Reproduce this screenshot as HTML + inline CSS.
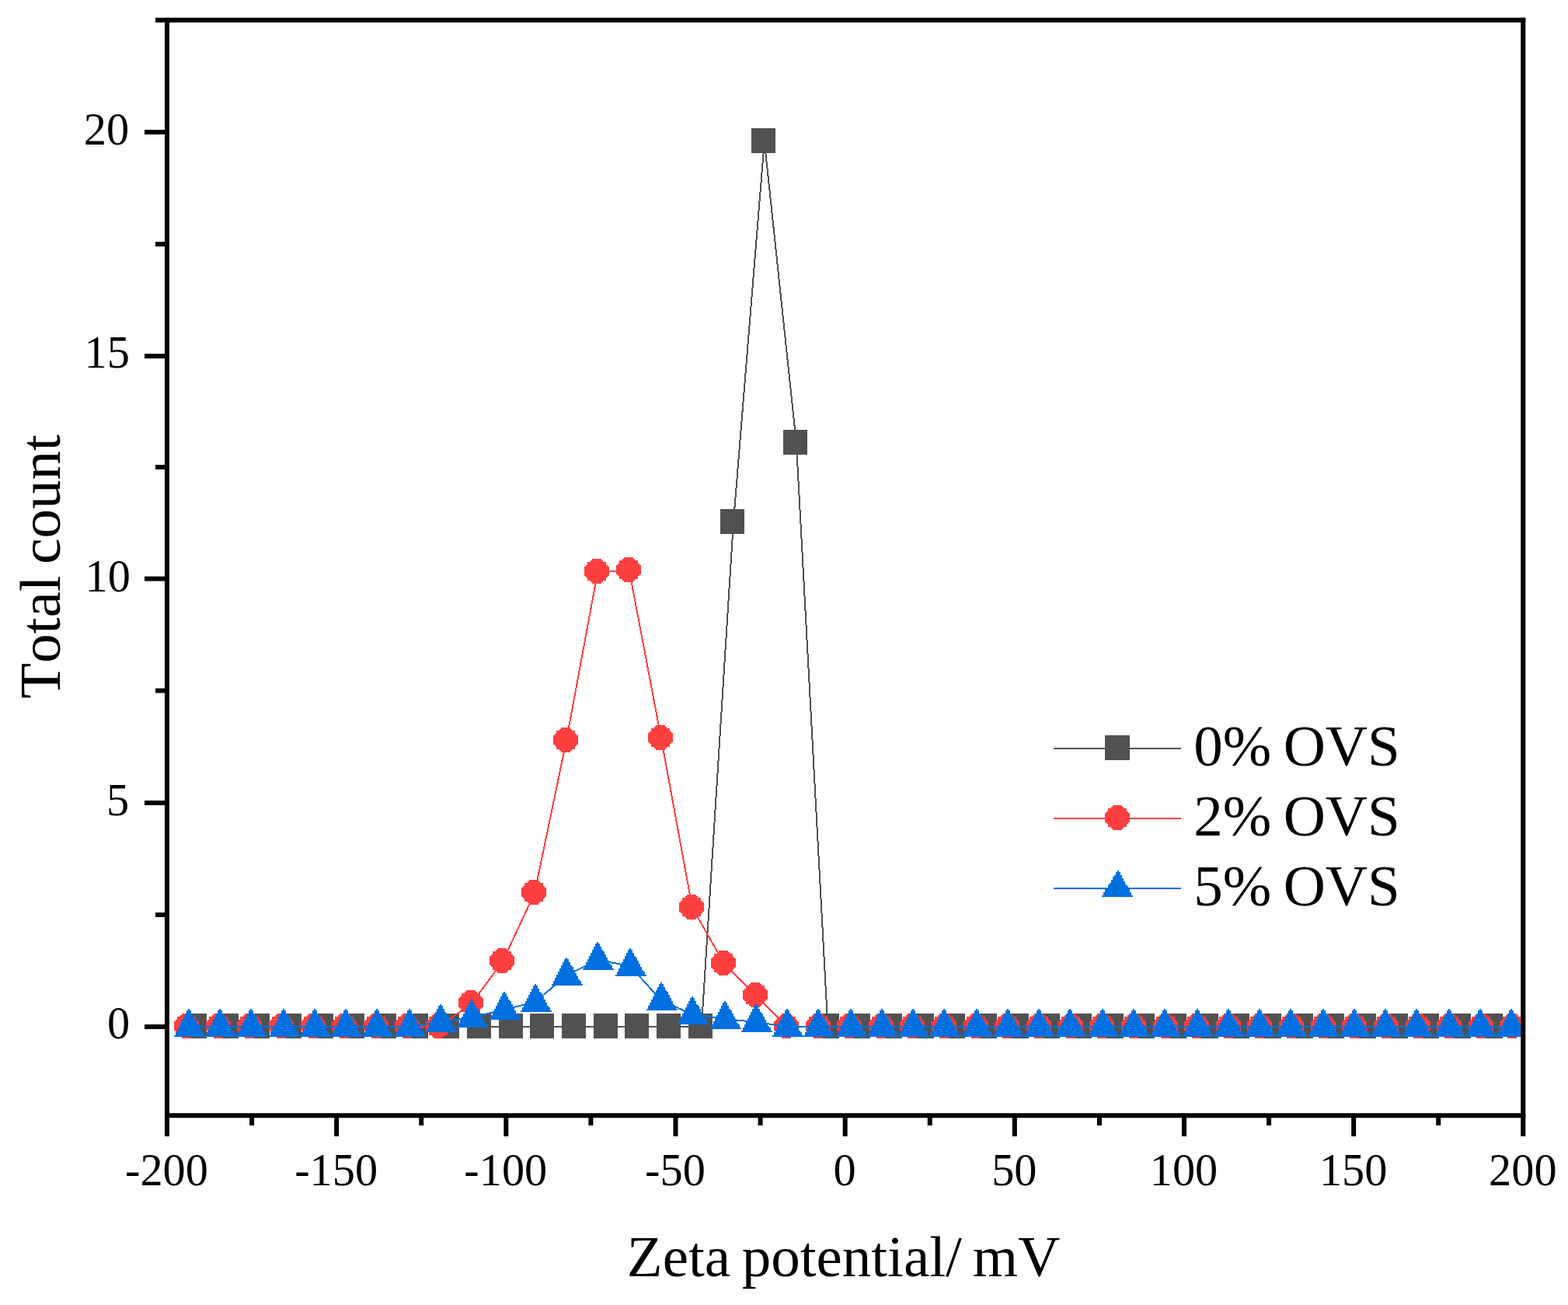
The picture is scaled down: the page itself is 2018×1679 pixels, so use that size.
<!DOCTYPE html>
<html lang="en">
<head>
<meta charset="utf-8">
<title>Zeta potential distribution</title>
<style>
html,body{margin:0;padding:0;background:#fff;}
body{width:2018px;height:1679px;overflow:hidden;}
svg{display:block;}
text{font-family:"Liberation Serif","DejaVu Serif",serif;fill:#000;font-kerning:none;}
.tick{font-size:58.33px;}
.title{font-size:75px;}
.leg{font-size:75px;}
</style>
</head>
<body>
<svg width="2018" height="1679" viewBox="0 0 2018 1679">
<rect x="0" y="0" width="2018" height="1679" fill="#fff"/>
<defs>
<clipPath id="plot"><rect x="218" y="29" width="1739.2" height="1403.2"/></clipPath>
<g id="mc">
<rect x="-6" y="-16" width="12" height="2"/>
<rect x="-8" y="-14" width="16" height="2"/>
<rect x="-12" y="-12" width="24" height="4"/>
<rect x="-14" y="-8" width="28" height="2"/>
<rect x="-16" y="-6" width="32" height="12"/>
<rect x="-14" y="6" width="28" height="2"/>
<rect x="-12" y="8" width="24" height="4"/>
<rect x="-8" y="12" width="16" height="2"/>
<rect x="-6" y="14" width="12" height="2"/>
</g>
<g id="mt">
<rect x="-1" y="0" width="2" height="2"/>
<rect x="-3" y="2" width="6" height="4"/>
<rect x="-5" y="6" width="10" height="4"/>
<rect x="-7" y="10" width="14" height="2"/>
<rect x="-7" y="12" width="16" height="2"/>
<rect x="-9" y="14" width="18" height="2"/>
<rect x="-9" y="16" width="20" height="2"/>
<rect x="-11" y="18" width="22" height="2"/>
<rect x="-11" y="20" width="24" height="2"/>
<rect x="-13" y="22" width="26" height="2"/>
<rect x="-13" y="24" width="28" height="2"/>
<rect x="-15" y="26" width="30" height="2"/>
<rect x="-15" y="28" width="32" height="2"/>
<rect x="-17" y="30" width="36" height="4"/>
<rect x="-19" y="34" width="40" height="2"/>
</g>
<g id="mt2">
<rect x="-1" y="0" width="2" height="2"/>
<rect x="-3" y="2" width="6" height="4"/>
<rect x="-5" y="6" width="10" height="2"/>
<rect x="-7" y="8" width="12" height="2"/>
<rect x="-7" y="10" width="14" height="2"/>
<rect x="-9" y="12" width="16" height="2"/>
<rect x="-9" y="14" width="18" height="2"/>
<rect x="-11" y="16" width="20" height="2"/>
<rect x="-13" y="18" width="24" height="2"/>
<rect x="-13" y="20" width="26" height="2"/>
<rect x="-15" y="22" width="30" height="2"/>
<rect x="-17" y="24" width="32" height="4"/>
<rect x="-19" y="28" width="36" height="4"/>
<rect x="-21" y="32" width="40" height="2"/>
</g>
</defs>
<g clip-path="url(#plot)" shape-rendering="crispEdges">
<polyline fill="none" stroke="#515151" stroke-width="2" points="251.4,1321 292.08,1321 332.76,1321 373.44,1321 414.12,1321 454.8,1321 495.48,1321 536.16,1321 576.84,1321 617.52,1321 658.2,1321 698.88,1321 739.56,1321 780.24,1321 820.92,1321 861.6,1321 902.9,1321 943.9,672.3 983.8,181.9 1024.9,570.1 1065.4,1321 1105.68,1321 1146.36,1321 1187.04,1321 1227.72,1321 1268.4,1321 1309.08,1321 1349.76,1321 1390.44,1321 1431.12,1321 1471.8,1321 1512.48,1321 1553.16,1321 1593.84,1321 1634.52,1321 1675.2,1321 1715.88,1321 1756.56,1321 1797.24,1321 1837.92,1321 1878.6,1321 1919.28,1321"/>
<g fill="#515151">
<rect x="234.9" y="1304" width="31" height="32"/>
<rect x="275.58" y="1304" width="31" height="32"/>
<rect x="316.26" y="1304" width="31" height="32"/>
<rect x="356.94" y="1304" width="31" height="32"/>
<rect x="397.62" y="1304" width="31" height="32"/>
<rect x="438.3" y="1304" width="31" height="32"/>
<rect x="478.98" y="1304" width="31" height="32"/>
<rect x="519.66" y="1304" width="31" height="32"/>
<rect x="560.34" y="1304" width="31" height="32"/>
<rect x="601.02" y="1304" width="31" height="32"/>
<rect x="641.7" y="1304" width="31" height="32"/>
<rect x="682.38" y="1304" width="31" height="32"/>
<rect x="723.06" y="1304" width="31" height="32"/>
<rect x="763.74" y="1304" width="31" height="32"/>
<rect x="804.42" y="1304" width="31" height="32"/>
<rect x="845.1" y="1304" width="31" height="32"/>
<rect x="886.4" y="1304" width="31" height="32"/>
<rect x="927.4" y="655.3" width="31" height="32"/>
<rect x="967.3" y="164.9" width="31" height="32"/>
<rect x="1008.4" y="553.1" width="31" height="32"/>
<rect x="1048.9" y="1304" width="31" height="32"/>
<rect x="1089.18" y="1304" width="31" height="32"/>
<rect x="1129.86" y="1304" width="31" height="32"/>
<rect x="1170.54" y="1304" width="31" height="32"/>
<rect x="1211.22" y="1304" width="31" height="32"/>
<rect x="1251.9" y="1304" width="31" height="32"/>
<rect x="1292.58" y="1304" width="31" height="32"/>
<rect x="1333.26" y="1304" width="31" height="32"/>
<rect x="1373.94" y="1304" width="31" height="32"/>
<rect x="1414.62" y="1304" width="31" height="32"/>
<rect x="1455.3" y="1304" width="31" height="32"/>
<rect x="1495.98" y="1304" width="31" height="32"/>
<rect x="1536.66" y="1304" width="31" height="32"/>
<rect x="1577.34" y="1304" width="31" height="32"/>
<rect x="1618.02" y="1304" width="31" height="32"/>
<rect x="1658.7" y="1304" width="31" height="32"/>
<rect x="1699.38" y="1304" width="31" height="32"/>
<rect x="1740.06" y="1304" width="31" height="32"/>
<rect x="1780.74" y="1304" width="31" height="32"/>
<rect x="1821.42" y="1304" width="31" height="32"/>
<rect x="1862.1" y="1304" width="31" height="32"/>
<rect x="1902.78" y="1304" width="31" height="32"/>
</g>
<polyline fill="none" stroke="#FE3F3F" stroke-width="2" points="241,1321 281.63,1321 322.26,1321 362.89,1321 403.52,1321 444.15,1321 484.78,1321 525.41,1321 565.5,1321 607.1,1290.7 646.9,1237.2 688,1149 728.9,952.8 769.1,736.3 809.9,734.3 851,950.4 891,1168 931.9,1239.8 972.9,1280.9 1012.8,1321 1054,1321 1094.23,1321 1134.86,1321 1175.49,1321 1216.12,1321 1256.75,1321 1297.38,1321 1338.01,1321 1378.64,1321 1419.27,1321 1459.9,1321 1500.53,1321 1541.16,1321 1581.79,1321 1622.42,1321 1663.05,1321 1703.68,1321 1744.31,1321 1784.94,1321 1825.57,1321 1866.2,1321 1906.83,1321 1947.46,1321"/>
<g fill="#FE3F3F">
<use href="#mc" x="240" y="1320"/>
<use href="#mc" x="281" y="1320"/>
<use href="#mc" x="321" y="1320"/>
<use href="#mc" x="362" y="1320"/>
<use href="#mc" x="403" y="1320"/>
<use href="#mc" x="443" y="1320"/>
<use href="#mc" x="484" y="1320"/>
<use href="#mc" x="524" y="1320"/>
<use href="#mc" x="564" y="1320"/>
<use href="#mc" x="606" y="1290"/>
<use href="#mc" x="646" y="1236"/>
<use href="#mc" x="687" y="1148"/>
<use href="#mc" x="728" y="952"/>
<use href="#mc" x="768" y="735"/>
<use href="#mc" x="809" y="733"/>
<use href="#mc" x="850" y="949"/>
<use href="#mc" x="890" y="1167"/>
<use href="#mc" x="931" y="1239"/>
<use href="#mc" x="972" y="1280"/>
<use href="#mc" x="1012" y="1320"/>
<use href="#mc" x="1053" y="1320"/>
<use href="#mc" x="1093" y="1320"/>
<use href="#mc" x="1134" y="1320"/>
<use href="#mc" x="1174" y="1320"/>
<use href="#mc" x="1215" y="1320"/>
<use href="#mc" x="1256" y="1320"/>
<use href="#mc" x="1296" y="1320"/>
<use href="#mc" x="1337" y="1320"/>
<use href="#mc" x="1378" y="1320"/>
<use href="#mc" x="1418" y="1320"/>
<use href="#mc" x="1459" y="1320"/>
<use href="#mc" x="1500" y="1320"/>
<use href="#mc" x="1540" y="1320"/>
<use href="#mc" x="1581" y="1320"/>
<use href="#mc" x="1621" y="1320"/>
<use href="#mc" x="1662" y="1320"/>
<use href="#mc" x="1703" y="1320"/>
<use href="#mc" x="1743" y="1320"/>
<use href="#mc" x="1784" y="1320"/>
<use href="#mc" x="1825" y="1320"/>
<use href="#mc" x="1865" y="1320"/>
<use href="#mc" x="1906" y="1320"/>
<use href="#mc" x="1946" y="1320"/>
</g>
<polyline fill="none" stroke="#0070E0" stroke-width="2" points="243,1321 283,1321 323,1321 365,1321 405,1321 445,1321 485,1321 527,1321 567,1315 607,1309.1 649,1299 689,1289 729,1254.9 769,1235 811,1243 851,1287.1 891,1305 933,1311 973,1315 1013,1321 1053,1321 1095,1321 1135,1321 1175,1321 1215,1321 1257,1321 1297,1321 1337,1321 1377,1321 1419,1321 1459,1321 1499,1321 1541,1321 1581,1321 1621,1321 1661,1321 1703,1321 1743,1321 1783,1321 1823,1321 1865,1321 1905,1321 1945,1321"/>
<g fill="#0070E0">
<use href="#mt" x="243" y="1298"/>
<use href="#mt" x="283" y="1298"/>
<use href="#mt" x="323" y="1298"/>
<use href="#mt" x="365" y="1298"/>
<use href="#mt" x="405" y="1298"/>
<use href="#mt" x="445" y="1298"/>
<use href="#mt" x="485" y="1298"/>
<use href="#mt" x="527" y="1298"/>
<use href="#mt" x="567" y="1292"/>
<use href="#mt" x="607" y="1286"/>
<use href="#mt" x="649" y="1276"/>
<use href="#mt" x="689" y="1266"/>
<use href="#mt" x="729" y="1232"/>
<use href="#mt" x="769" y="1212"/>
<use href="#mt" x="811" y="1220"/>
<use href="#mt" x="851" y="1264"/>
<use href="#mt" x="891" y="1282"/>
<use href="#mt" x="933" y="1288"/>
<use href="#mt" x="973" y="1292"/>
<use href="#mt" x="1013" y="1298"/>
<use href="#mt" x="1053" y="1298"/>
<use href="#mt" x="1095" y="1298"/>
<use href="#mt" x="1135" y="1298"/>
<use href="#mt" x="1175" y="1298"/>
<use href="#mt" x="1215" y="1298"/>
<use href="#mt" x="1257" y="1298"/>
<use href="#mt" x="1297" y="1298"/>
<use href="#mt" x="1337" y="1298"/>
<use href="#mt" x="1377" y="1298"/>
<use href="#mt" x="1419" y="1298"/>
<use href="#mt" x="1459" y="1298"/>
<use href="#mt" x="1499" y="1298"/>
<use href="#mt" x="1541" y="1298"/>
<use href="#mt" x="1581" y="1298"/>
<use href="#mt" x="1621" y="1298"/>
<use href="#mt" x="1661" y="1298"/>
<use href="#mt" x="1703" y="1298"/>
<use href="#mt" x="1743" y="1298"/>
<use href="#mt" x="1783" y="1298"/>
<use href="#mt" x="1823" y="1298"/>
<use href="#mt" x="1865" y="1298"/>
<use href="#mt" x="1905" y="1298"/>
<use href="#mt" x="1945" y="1298"/>
</g>
</g>
<g fill="#000">
<rect x="212" y="22.8" width="6" height="1439.2"/>
<rect x="1957.2" y="22.8" width="6.1" height="1439.2"/>
<rect x="200" y="22.8" width="1763.3" height="6.1"/>
<rect x="212" y="1432.2" width="1751.3" height="6"/>
<rect x="186" y="1318" width="27" height="6"/>
<rect x="186" y="1030" width="27" height="6"/>
<rect x="186" y="741.6" width="27" height="6"/>
<rect x="186" y="455.2" width="27" height="6"/>
<rect x="186" y="167" width="27" height="6"/>
<rect x="200" y="1174" width="13" height="6"/>
<rect x="200" y="885.6" width="13" height="6"/>
<rect x="200" y="598" width="13" height="6"/>
<rect x="200" y="311.2" width="13" height="6"/>
<rect x="430.16" y="1437" width="6" height="25"/>
<rect x="648.33" y="1437" width="6" height="25"/>
<rect x="866.5" y="1437" width="6" height="25"/>
<rect x="1084.66" y="1437" width="6" height="25"/>
<rect x="1302.83" y="1437" width="6" height="25"/>
<rect x="1520.99" y="1437" width="6" height="25"/>
<rect x="1739.15" y="1437" width="6" height="25"/>
<rect x="321.08" y="1437" width="6" height="11"/>
<rect x="539.25" y="1437" width="6" height="11"/>
<rect x="757.41" y="1437" width="6" height="11"/>
<rect x="975.58" y="1437" width="6" height="11"/>
<rect x="1193.74" y="1437" width="6" height="11"/>
<rect x="1411.91" y="1437" width="6" height="11"/>
<rect x="1630.07" y="1437" width="6" height="11"/>
<rect x="1848.24" y="1437" width="6" height="11"/>
</g>
<g class="tick" text-anchor="end">
<text x="167.1" y="1336.4">0</text>
<text x="166.2" y="1048.75">5</text>
<text x="167.8" y="761.1">10</text>
<text x="166.8" y="473.45">15</text>
<text x="166.1" y="185.8">20</text>
</g>
<g class="tick" text-anchor="middle">
<text x="214.5" y="1524.9">-200</text>
<text x="432.66" y="1524.9">-150</text>
<text x="650.83" y="1524.9">-100</text>
<text x="869" y="1524.9">-50</text>
<text x="1087.16" y="1524.9">0</text>
<text x="1305.33" y="1524.9">50</text>
<text x="1523.49" y="1524.9">100</text>
<text x="1741.65" y="1524.9">150</text>
<text x="1959.82" y="1524.9">200</text>
</g>
<text class="title" x="806.85" y="1642.4">Zeta <tspan dx="-4.2">potential/</tspan> <tspan dx="-4.85">mV</tspan></text>
<text class="title" transform="translate(76.6 898.7) rotate(-90)">Total <tspan dx="-4.05">count</tspan></text>
<g shape-rendering="crispEdges">
<rect x="1356" y="962" width="164" height="2" fill="#515151"/>
<rect x="1422" y="946" width="32" height="32" fill="#515151"/>
<rect x="1356" y="1052" width="164" height="2" fill="#FE3F3F"/>
<use href="#mc" x="1438" y="1052" fill="#FE3F3F"/>
<rect x="1356" y="1142" width="164" height="2" fill="#0070E0"/>
<use href="#mt2" x="1439" y="1120" fill="#0070E0"/>
</g>
<g class="leg">
<text x="1536.3" y="985.2">0% <tspan dx="-3.4">OVS</tspan></text>
<text x="1536.3" y="1075.3">2% <tspan dx="-3.4">OVS</tspan></text>
<text x="1536.3" y="1165.4">5% <tspan dx="-3.4">OVS</tspan></text>
</g>
</svg>
</body>
</html>
